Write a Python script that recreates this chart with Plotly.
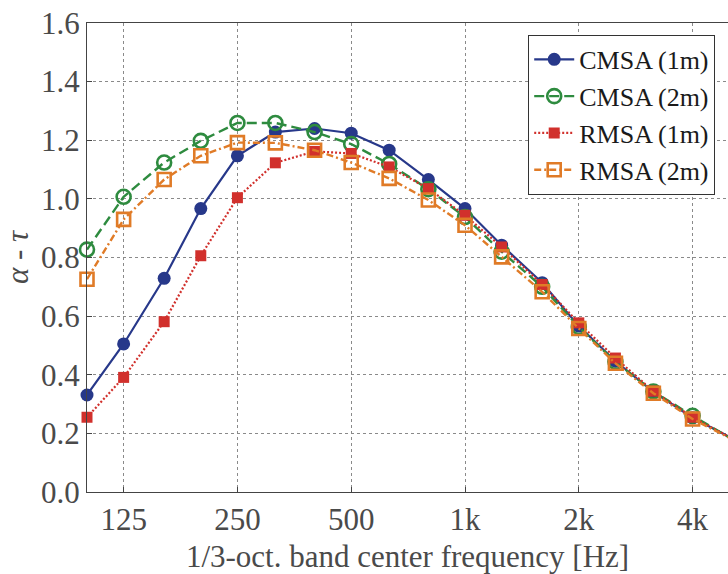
import plotly.graph_objects as go

freqs = [100, 125, 160, 200, 250, 315, 400, 500, 630, 800, 1000, 1250, 1600, 2000, 2500, 3150, 4000, 5000]

cmsa_1m = [0.331, 0.505, 0.729, 0.967, 1.147, 1.228, 1.240, 1.224, 1.166, 1.066, 0.967, 0.842, 0.714, 0.566, 0.446, 0.342, 0.253, 0.188]
cmsa_2m = [0.827, 1.007, 1.124, 1.198, 1.259, 1.259, 1.228, 1.187, 1.119, 1.033, 0.938, 0.820, 0.700, 0.563, 0.444, 0.343, 0.260, 0.186]
rmsa_1m = [0.255, 0.391, 0.581, 0.806, 1.004, 1.123, 1.162, 1.155, 1.109, 1.035, 0.944, 0.836, 0.708, 0.577, 0.457, 0.344, 0.255, 0.188]
rmsa_2m = [0.726, 0.930, 1.066, 1.147, 1.192, 1.191, 1.166, 1.124, 1.070, 0.996, 0.910, 0.802, 0.683, 0.558, 0.439, 0.337, 0.249, 0.185]

tick_vals = [125, 250, 500, 1000, 2000, 4000]
tick_text = ["125", "250", "500", "1k", "2k", "4k"]

FONT = "Liberation Serif"

fig = go.Figure()
fig.add_trace(go.Scatter(x=freqs, y=cmsa_1m, name="CMSA (1m)", mode="lines+markers",
                         line=dict(color="#27388A", width=2.2),
                         marker=dict(symbol="circle", size=13, color="#27388A"),
                         cliponaxis=False))
fig.add_trace(go.Scatter(x=freqs, y=cmsa_2m, name="CMSA (2m)", mode="lines+markers",
                         line=dict(color="#2E8B3F", width=2.4, dash="10px,5px"),
                         marker=dict(symbol="circle-open", size=14, color="#2E8B3F", line=dict(width=2.6)),
                         cliponaxis=False))
fig.add_trace(go.Scatter(x=freqs, y=rmsa_1m, name="RMSA (1m)", mode="lines+markers",
                         line=dict(color="#D1302C", width=2.2, dash="2px,2px"),
                         marker=dict(symbol="square", size=11, color="#D1302C"),
                         cliponaxis=False))
fig.add_trace(go.Scatter(x=freqs, y=rmsa_2m, name="RMSA (2m)", mode="lines+markers",
                         line=dict(color="#E07B27", width=2.4, dash="7px,3px,2px,3px"),
                         marker=dict(symbol="square-open", size=13, color="#E07B27", line=dict(width=2.6)),
                         cliponaxis=False))

fig.update_layout(
    width=728, height=574,
    margin=dict(l=87, r=0, t=23, b=82),
    paper_bgcolor="white", plot_bgcolor="white",
    font=dict(family=FONT, size=31, color="#4a4a4a"),
    showlegend=True,
    legend=dict(x=0.688, y=0.975, xanchor="left", yanchor="top",
                bgcolor="white", bordercolor="#333333", borderwidth=1.2,
                font=dict(family=FONT, size=26, color="#1a1a1a"),
                itemwidth=40, tracegroupgap=0),
)

fig.update_xaxes(type="log", range=[2, 2 + 641 / 378.0],
                 tickvals=tick_vals, ticktext=tick_text,
                 showgrid=True, gridcolor="#8a8a8a", griddash="dot", gridwidth=1,
                 showline=True, linecolor="#444444", linewidth=1.3, mirror=True,
                 ticks="inside", ticklen=5, tickcolor="#444444",
                 tickfont=dict(family=FONT, size=31, color="#4a4a4a"),
                 title=dict(text="1/3-oct. band center frequency [Hz]",
                            font=dict(family=FONT, size=31, color="#4a4a4a"), standoff=8),
                 zeroline=False)
fig.update_yaxes(range=[0, 1.6], dtick=0.2, tickformat=".1f",
                 showgrid=True, gridcolor="#8a8a8a", griddash="dot", gridwidth=1,
                 showline=True, linecolor="#444444", linewidth=1.3, mirror=True,
                 ticks="inside", ticklen=5, tickcolor="#444444",
                 tickfont=dict(family=FONT, size=31, color="#4a4a4a"),
                 title=dict(text="<i>α</i> - <i>τ</i>",
                            font=dict(family=FONT, size=31, color="#4a4a4a"), standoff=4),
                 zeroline=False)

fig.write_html("out.html")
